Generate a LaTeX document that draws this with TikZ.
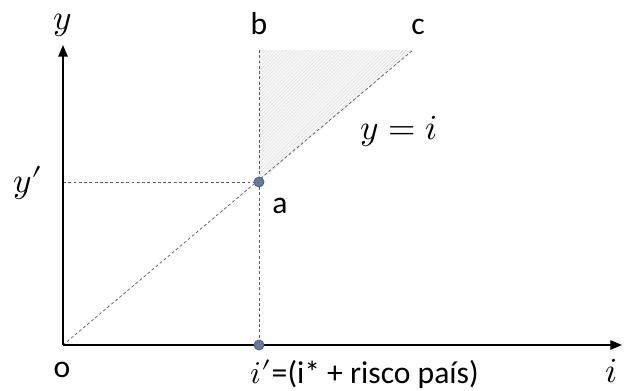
\documentclass[tikz,border=0pt]{standalone}
\usepackage{unicode-math}
\setmainfont{Carlito}
\setmathfont{Latin Modern Math}
\newfontfamily\primefont{Latin Modern Math}
\newcommand{\pr}{\kern0.5pt{\primefont ′}}
\usepackage{tikz}
\usetikzlibrary{arrows.meta,patterns}
\definecolor{dotfill}{HTML}{6B7A93}
\definecolor{dotline}{HTML}{4A6799}
\definecolor{guide}{HTML}{5C5C5C}
\tikzset{
  axisline/.style={line width=1.6pt, -{Triangle[length=10pt, width=8pt]}},
  guideline/.style={dashed, dash pattern=on 2.5pt off 2pt, color=guide, line width=0.6pt},
  mark dot/.style={circle, draw=dotline, fill=dotfill, line width=0.8pt,
    minimum size=8.5pt, inner sep=0pt},
  lbl/.style={font=\fontsize{27}{32}\selectfont, inner sep=1pt},
  mathlbl/.style={font=\fontsize{30}{36}\selectfont, inner sep=1pt},
}

\begin{document}
\begin{tikzpicture}[x=0.03cm, y=-0.03cm]
  \useasboundingbox (0,0) rectangle (625,390);
  % corners
  \coordinate (o) at (63,345);
  \coordinate (ytop) at (63,45);
  \coordinate (xend) at (622,345);
  \coordinate (btop) at (259,50);
  \coordinate (ctop) at (413,50);
  \coordinate (yprime) at (63,182);
  % shaded wedge
  \fill[gray!6] (259,182) -- (btop) -- (ctop) -- cycle;
  \fill[pattern=north east lines, pattern color=gray!25] (259,182) -- (btop) -- (ctop) -- cycle;
  % guides
  \draw[guideline] (o) -- (ctop);
  \draw[guideline] (btop) -- (259,345);
  \draw[guideline] (yprime) -- (259,182);
  % axes
  \draw[axisline] (o) -- (ytop);
  \draw[axisline] (o) -- (xend);
  % points
  \node[mark dot] (a) at (259,182) {};
  \node[mark dot] (ip) at (259,345) {};
  % labels
  \node[mathlbl] (ylab) at (63,25) {$y$};
  \node[lbl] (blab) at (259,24) {b};
  \node[lbl] (clab) at (418,27) {c};
  \node[mathlbl] (eqlab) at (399,131) {$y=i$};
  \node[mathlbl] (yplab) at (28,183) {$y$\pr};
  \node[lbl] (alab) at (280,206) {a};
  \node[lbl] (olab) at (62,370) {o};
  \node[lbl, anchor=base west] (iplab) at (249,383) {$i$\pr=(i* + risco país)};
  \node[mathlbl, anchor=base] (ilab) at (612,382) {$i$};
\end{tikzpicture}
\end{document}
